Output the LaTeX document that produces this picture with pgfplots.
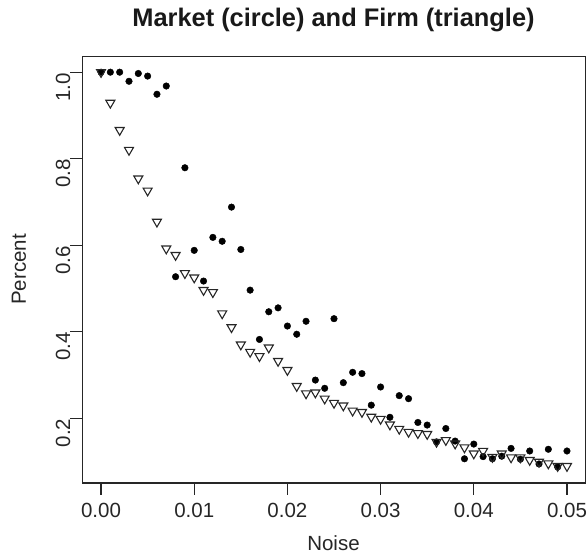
\documentclass[border=0pt]{standalone}
\usepackage{fontspec}
\setmainfont{Liberation Sans}
\usepackage{pgfplots}
\pgfplotsset{compat=1.18}
\begin{document}
\begin{tikzpicture}[x=1bp,y=1bp]
\path[use as bounding box] (0,0) rectangle (588,556);
\begin{axis}[
  at={(82.4bp,73bp)}, anchor=south west,
  scale only axis, width=503.2bp, height=426.8bp,
  xmin=-0.002, xmax=0.052, ymin=0.05, ymax=1.037,
  scaled x ticks=false, scaled y ticks=false,
  axis line style={black!85, line width=1.3bp},
  xtick={0,0.01,0.02,0.03,0.04,0.05},
  xticklabels={0.00,0.01,0.02,0.03,0.04,0.05},
  ytick={0.2,0.4,0.6,0.8,1.0},
  yticklabels={0.2,0.4,0.6,0.8,1.0},
  xtick pos=bottom, ytick pos=left,
  tick align=outside, major tick length=12bp,
  tick style={black!85, line width=1.2bp},
  /pgf/number format/assume math mode=true,
  ticklabel style={font=\fontsize{20.5bp}{24bp}\selectfont, text=black!85},
  xticklabel style={anchor=north, inner sep=0pt, yshift=-8bp},
  yticklabel style={rotate=90, anchor=south, inner sep=0pt, xshift=-15bp},
  clip=false,
]
\addplot[only marks, mark=*, mark size=3.3bp, black, mark options={fill=black}] coordinates {
(0.000,1.000) (0.001,1.000) (0.002,1.000) (0.003,0.979) (0.004,0.997)
(0.005,0.991) (0.006,0.949) (0.007,0.968) (0.008,0.527) (0.009,0.779)
(0.010,0.588) (0.011,0.517) (0.012,0.618) (0.013,0.609) (0.014,0.688)
(0.015,0.590) (0.016,0.496) (0.017,0.382) (0.018,0.446) (0.019,0.455)
(0.020,0.413) (0.021,0.394) (0.022,0.424) (0.023,0.288) (0.024,0.269)
(0.025,0.430) (0.026,0.282) (0.027,0.306) (0.028,0.303) (0.029,0.230)
(0.030,0.272) (0.031,0.202) (0.032,0.252) (0.033,0.245) (0.034,0.190)
(0.035,0.184) (0.036,0.145) (0.037,0.176) (0.038,0.147) (0.039,0.106)
(0.040,0.140) (0.041,0.111) (0.042,0.106) (0.043,0.112) (0.044,0.130)
(0.045,0.105) (0.046,0.124) (0.047,0.094) (0.048,0.128) (0.049,0.087)
(0.050,0.124)
};
\addplot[only marks, mark=triangle, mark size=5.2bp, black!85, mark options={rotate=180, line width=1.1bp}] coordinates {
(0.000,1.000) (0.001,0.929) (0.002,0.866) (0.003,0.820) (0.004,0.754)
(0.005,0.726) (0.006,0.654) (0.007,0.592) (0.008,0.577) (0.009,0.535)
(0.010,0.525) (0.011,0.496) (0.012,0.491) (0.013,0.442) (0.014,0.410)
(0.015,0.370) (0.016,0.353) (0.017,0.343) (0.018,0.363) (0.019,0.332)
(0.020,0.311) (0.021,0.274) (0.022,0.257) (0.023,0.259) (0.024,0.245)
(0.025,0.235) (0.026,0.229) (0.027,0.217) (0.028,0.214) (0.029,0.203)
(0.030,0.198) (0.031,0.185) (0.032,0.175) (0.033,0.168) (0.034,0.165)
(0.035,0.163) (0.036,0.145) (0.037,0.149) (0.038,0.141) (0.039,0.132)
(0.040,0.118) (0.041,0.124) (0.042,0.110) (0.043,0.118) (0.044,0.109)
(0.045,0.109) (0.046,0.103) (0.047,0.099) (0.048,0.095) (0.049,0.089)
(0.050,0.089)
};
\end{axis}
\node[font=\fontsize{25.4bp}{30bp}\selectfont\bfseries, text=black!90] at (333.5,536) {Market (circle) and Firm (triangle)};
\node[font=\fontsize{20.5bp}{24bp}\selectfont, text=black!85] at (333.5,13) {Noise};
\node[font=\fontsize{20.5bp}{24bp}\selectfont, text=black!85, rotate=90] at (19,286.5) {Percent};
\end{tikzpicture}
\end{document}
